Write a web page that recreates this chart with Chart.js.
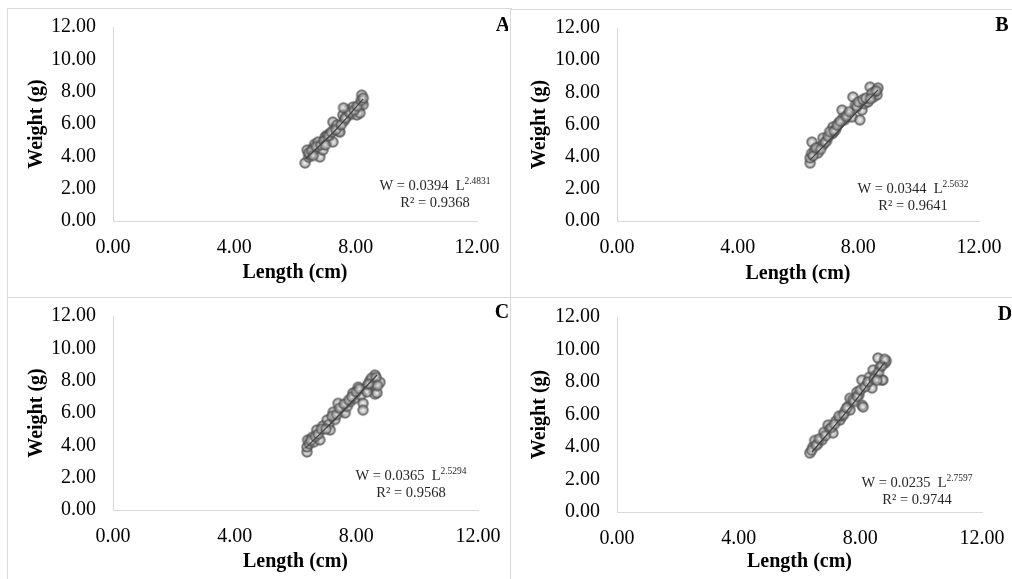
<!DOCTYPE html>
<html>
<head>
<meta charset="utf-8">
<script src="https://cdn.jsdelivr.net/npm/chart.js@4.4.0/dist/chart.umd.min.js"></script>
<style>
  body { margin: 0; background: #fff; width: 1012px; height: 579px; overflow: hidden; position: relative; }
  .panel { position: absolute; border: 1px solid #d9d9d9; box-sizing: border-box; overflow: hidden; background: #fff; }
  .panel canvas { position: absolute; left: 0; top: 0; }
</style>
</head>
<body>
<div class="panel" style="left:7px;top:8px;width:505px;height:290px"><canvas id="cA" width="500" height="285"></canvas></div>
<div class="panel" style="left:510px;top:9px;width:510px;height:289px"><canvas id="cB" width="500" height="285"></canvas></div>
<div class="panel" style="left:7px;top:297px;width:505px;height:290px"><canvas id="cC" width="500" height="285"></canvas></div>
<div class="panel" style="left:510px;top:297px;width:510px;height:290px"><canvas id="cD" width="500" height="285"></canvas></div>
<script>
// values (length cm / weight g)
const lenA = [6.33, 6.40, 6.45, 6.50, 6.60, 6.65, 6.76, 6.82, 6.92, 6.99, 7.05, 7.09, 7.15, 7.25, 7.25, 7.30, 7.38, 7.45, 7.48, 7.58, 7.62, 7.70, 7.75, 7.85, 7.91, 8.04, 8.10, 8.14, 8.20, 8.20, 8.25,
              6.45, 6.55, 6.70, 6.85, 6.95, 7.10, 7.20, 7.35, 7.52, 7.65, 7.80, 7.95, 8.05, 8.18, 8.25, 6.60, 7.00, 7.60];
const wtA  = [3.59, 4.39, 3.95, 4.08, 4.50, 4.75, 4.89, 3.96, 4.39, 5.19, 5.30, 5.00, 5.40, 4.89, 6.12, 5.70, 5.94, 5.55, 5.50, 6.56, 6.20, 6.45, 6.86, 6.60, 7.05, 6.56, 7.00, 6.68, 7.36, 7.79, 7.20,
              4.20, 4.35, 4.60, 4.70, 4.95, 5.25, 5.50, 5.65, 5.95, 6.35, 6.70, 6.85, 7.10, 7.45, 7.60, 4.05, 4.70, 7.00];

const lenB = [6.40, 6.40, 6.45, 6.46, 6.55, 6.66, 6.70, 6.83, 6.83, 6.95, 7.10, 7.16, 7.16, 7.25, 7.35, 7.46, 7.49, 7.55, 7.65, 7.79, 7.82, 7.90, 8.05, 8.12, 8.20, 8.32, 8.39, 8.50, 8.62, 8.65, 8.55,
              6.50, 6.60, 6.75, 6.90, 7.00, 7.05, 7.20, 7.30, 7.40, 7.60, 7.70, 7.95, 8.00, 8.15, 8.25, 8.45, 8.60, 8.40];
const wtB  = [3.60, 3.92, 4.20, 4.91, 4.40, 4.23, 4.60, 5.16, 4.73, 5.00, 5.40, 5.85, 5.47, 5.70, 6.10, 6.90, 6.40, 6.30, 6.60, 6.47, 7.71, 7.20, 6.28, 6.90, 7.30, 7.40, 8.33, 7.70, 7.84, 8.27, 8.05,
              4.05, 4.55, 4.45, 4.90, 5.25, 5.55, 5.60, 5.95, 6.20, 6.50, 6.80, 7.10, 7.40, 7.55, 7.65, 7.95, 8.10, 7.60];

const lenC = [6.38, 6.38, 6.40, 6.45, 6.55, 6.60, 6.70, 6.80, 6.90, 7.04, 7.10, 7.14, 7.24, 7.30, 7.40, 7.50, 7.63, 7.70, 7.80, 7.89, 7.95, 8.06, 8.15, 8.22, 8.22, 8.30, 8.38, 8.45, 8.55, 8.61, 8.61, 8.68, 8.78,
              6.50, 6.65, 6.75, 6.85, 7.00, 7.20, 7.35, 7.45, 7.60, 7.75, 7.85, 8.00, 8.10, 8.35, 8.50, 8.65, 8.70, 8.40];
const wtC  = [3.59, 3.90, 4.33, 4.10, 4.50, 4.20, 4.95, 4.33, 5.20, 5.57, 5.30, 4.95, 6.06, 5.60, 6.60, 6.10, 6.00, 6.40, 6.70, 7.24, 6.90, 7.60, 7.10, 6.60, 6.18, 7.50, 7.73, 8.00, 7.80, 8.35, 7.17, 7.24, 7.90,
              4.30, 4.55, 4.70, 5.00, 5.00, 5.80, 5.90, 6.30, 6.55, 6.80, 7.00, 7.30, 7.50, 7.30, 8.15, 8.20, 7.70, 7.80];

const lenD = [6.34, 6.44, 6.50, 6.60, 6.74, 6.80, 6.94, 7.00, 7.10, 7.20, 7.33, 7.40, 7.50, 7.60, 7.66, 7.66, 7.75, 7.89, 7.95, 8.05, 8.05, 8.09, 8.22, 8.30, 8.38, 8.42, 8.50, 8.58, 8.65, 8.71, 8.74, 8.81, 8.85,
              6.40, 6.55, 6.65, 6.85, 7.05, 7.15, 7.30, 7.45, 7.55, 7.80, 7.90, 8.00, 8.15, 8.25, 8.45, 8.60, 8.70, 8.80, 8.55];
const wtD  = [3.63, 4.00, 4.40, 4.20, 4.43, 4.90, 5.35, 5.10, 4.86, 5.60, 5.66, 5.90, 6.20, 6.50, 6.28, 7.00, 6.90, 7.38, 7.20, 8.12, 6.58, 6.46, 7.82, 8.30, 7.63, 8.74, 8.40, 9.48, 8.90, 8.12, 8.12, 9.17, 9.30,
              3.80, 4.10, 4.50, 4.70, 5.20, 5.40, 5.90, 6.00, 6.40, 6.80, 7.10, 7.50, 7.70, 8.00, 8.20, 8.60, 9.00, 9.40, 8.10];

// trendline as drawn in the figure
const trendLenA = [6.35, 7.30, 8.25];
const trendWtA  = [3.85, 5.55, 7.55];
const trendLenB = [6.40, 7.50, 8.65];
const trendWtB  = [3.80, 5.90, 8.15];
const trendLenC = [6.33, 7.50, 8.68];
const trendWtC  = [3.83, 6.00, 8.35];
const trendLenD = [6.41, 7.60, 8.81];
const trendWtD  = [3.69, 6.30, 9.23];

const panelLetters = ['A', 'B', 'C', 'D'];
const coefA = ['0.0394', '0.0344', '0.0365', '0.0235'];
const expB  = ['2.4831', '2.5632', '2.5294', '2.7597'];
const rSquared = ['0.9368', '0.9641', '0.9568', '0.9744'];

const axisMax = 12;
const xStep = 4;
const yStep = 2;

const FONT = "'Liberation Serif', 'Times New Roman', serif";

// chart area inside each canvas, and where the text goes
const areas = [
  { left: 105, right: 469, top: 18, bottom: 212, eqX: 427, eqY: 181, letX: 495, letY: 17 },
  { left: 106, right: 468, top: 18, bottom: 211, eqX: 402, eqY: 183, letX: 491, letY: 16 },
  { left: 105, right: 470, top: 18, bottom: 212, eqX: 403, eqY: 182, letX: 494, letY: 15 },
  { left: 106, right: 471, top: 19, bottom: 214, eqX: 406, eqY: 189, letX: 494, letY: 17 }
];

function toPoints(xs, ys) {
  return xs.map((x, i) => ({ x: x, y: ys[i] }));
}

// excel-like round marker: grey ring, white centre
function makeMarker() {
  const c = document.createElement('canvas');
  c.width = 14; c.height = 14;
  const g = c.getContext('2d');
  const grad = g.createRadialGradient(7, 7, 0, 7, 7, 5.2);
  grad.addColorStop(0, 'rgba(255,255,255,0.95)');
  grad.addColorStop(0.4, 'rgba(190,190,190,0.7)');
  grad.addColorStop(1, 'rgba(120,120,120,0.65)');
  g.beginPath();
  g.arc(7, 7, 4.8, 0, Math.PI * 2);
  g.fillStyle = grad;
  g.fill();
  g.lineWidth = 2;
  g.strokeStyle = 'rgba(80,80,80,0.7)';
  g.stroke();
  return c;
}
const marker = makeMarker();

const panelText = {
  id: 'panelText',
  afterDraw(chart, args, opts) {
    const { ctx } = chart;
    ctx.save();
    ctx.fillStyle = '#000';
    ctx.textBaseline = 'middle';
    ctx.textAlign = 'center';
    ctx.font = 'bold 20px ' + FONT;
    ctx.fillText(opts.letter, opts.letX, opts.letY);

    // equation, centred block
    ctx.fillStyle = '#262626';
    ctx.textBaseline = 'alphabetic';
    ctx.textAlign = 'left';
    const main = 'W = ' + opts.coef + '  L';
    ctx.font = '14.5px ' + FONT;
    const wMain = ctx.measureText(main).width;
    ctx.font = '9.5px ' + FONT;
    const wSup = ctx.measureText(opts.exp).width;
    const x0 = opts.eqX - (wMain + wSup) / 2;
    ctx.font = '14.5px ' + FONT;
    ctx.fillText(main, x0, opts.eqY);
    ctx.font = '9.5px ' + FONT;
    ctx.fillText(opts.exp, x0 + wMain, opts.eqY - 6);
    ctx.font = '14.5px ' + FONT;
    ctx.textAlign = 'center';
    ctx.fillText('R\u00B2 = ' + opts.r2, opts.eqX, opts.eqY + 17);
    ctx.restore();
  }
};

function renderPanel(id, i, pts, trend) {
  const a = areas[i];
  const canvas = document.getElementById(id);
  const W = canvas.width, H = canvas.height;
  return new Chart(canvas, {
    type: 'scatter',
    data: {
      datasets: [
        {
          data: trend, showLine: true, pointRadius: 0,
          borderColor: '#3f3f3f', borderWidth: 1.3, tension: 0.3
        },
        {
          data: pts, showLine: false, pointStyle: marker, pointRadius: 5
        }
      ]
    },
    options: {
      responsive: false, animation: false,
      layout: { padding: { left: 0, bottom: 0, top: a.top, right: W - a.right } },
      plugins: {
        legend: { display: false }, tooltip: { enabled: false },
        panelText: {
          letter: panelLetters[i], coef: coefA[i], exp: expB[i], r2: rSquared[i],
          eqX: a.eqX, eqY: a.eqY, letX: a.letX, letY: a.letY
        }
      },
      scales: {
        x: {
          type: 'linear', min: 0, max: axisMax,
          afterFit: s => { s.height = H - a.bottom; s.paddingLeft = 0; s.paddingRight = 0; },
          grid: { display: false, drawTicks: false },
          border: { color: '#d9d9d9', width: 1 },
          ticks: { stepSize: xStep, padding: 15, color: '#000', font: { family: FONT, size: 20 },
                   callback: v => v.toFixed(2) },
          title: { display: true, text: 'Length (cm)', color: '#000',
                   font: { family: FONT, size: 20, weight: 'bold' }, padding: { top: 0, bottom: 9 } }
        },
        y: {
          type: 'linear', min: 0, max: axisMax,
          afterFit: s => { s.width = a.left; s.paddingTop = 0; s.paddingBottom = 0; },
          grid: { display: false, drawTicks: false },
          border: { color: '#d9d9d9', width: 1 },
          ticks: { stepSize: yStep, padding: 17, color: '#000', font: { family: FONT, size: 20 },
                   callback: v => v.toFixed(2) },
          title: { display: true, text: 'Weight (g)', color: '#000',
                   font: { family: FONT, size: 20, weight: 'bold' }, padding: { top: 17, bottom: 0 } }
        }
      }
    },
    plugins: [panelText]
  });
}

renderPanel('cA', 0, toPoints(lenA, wtA), toPoints(trendLenA, trendWtA));
renderPanel('cB', 1, toPoints(lenB, wtB), toPoints(trendLenB, trendWtB));
renderPanel('cC', 2, toPoints(lenC, wtC), toPoints(trendLenC, trendWtC));
renderPanel('cD', 3, toPoints(lenD, wtD), toPoints(trendLenD, trendWtD));
</script>
</body>
</html>
